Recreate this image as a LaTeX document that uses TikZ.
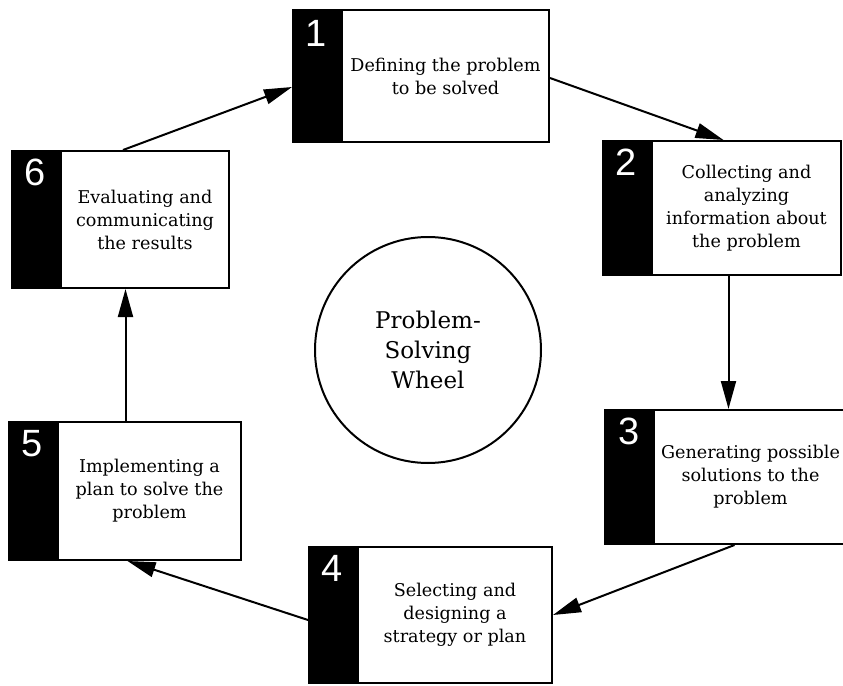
\documentclass[tikz,border=0pt]{standalone}
\usepackage{fontspec}
\setmainfont{DejaVu Serif}
\newfontfamily\numfont{Liberation Sans}
\usetikzlibrary{arrows.meta}

\begin{document}
\begin{tikzpicture}[x=0.5pt, y=-0.5pt, line width=1pt, >={Triangle[length=14pt,width=7.5pt]}]
    \useasboundingbox (0,0) rectangle (843,686);
    \begin{scope}[rectangle, every node/.style={draw, align=center, font=\fontsize{8.8}{11.5}\selectfont}]
    \node[minimum width=103.5pt, minimum height=66pt] (1) at (445.5,76) {Defining the problem\\to be solved};
    \node[minimum width=94.5pt, minimum height=67pt] (2) at (746.5,208) {Collecting and\\analyzing\\information about\\the problem};
    \node[minimum width=90.5pt, minimum height=67pt] (3) at (750.5,477) {Generating possible\\solutions to the\\problem};
    \node[minimum width=97pt, minimum height=68pt] (4) at (455,615) {Selecting and\\designing a\\strategy or plan};
    \node[minimum width=91.5pt, minimum height=69pt] (5) at (149.5,491) {Implementing a\\plan to solve the\\problem};
    \node[minimum width=84pt, minimum height=68.5pt] (6) at (145,219.5) {Evaluating and\\communicating\\the results};
    \end{scope}
    \begin{scope}[rectangle, every node/.style={draw, fill=black, minimum width=23.5pt, anchor=north east}]
    \node[minimum height=66pt] (1_) at (1.north west) {};
    \node[minimum height=67pt] (2_) at (2.north west) {};
    \node[minimum height=67pt] (3_) at (3.north west) {};
    \node[minimum height=68pt] (4_) at (4.north west) {};
    \node[minimum height=69pt] (5_) at (5.north west) {};
    \node[minimum height=68.5pt] (6_) at (6.north west) {};
    \end{scope}
    \begin{scope}[every node/.style={text=white, anchor=north, inner sep=0pt, font=\numfont\fontsize{19}{19}\selectfont}]
    \node (1n) at ([yshift=-5pt]1_.north) {1};
    \node (2n) at ([yshift=-4pt]2_.north) {2};
    \node (3n) at ([yshift=-4pt]3_.north) {3};
    \node (4n) at ([yshift=-4pt]4_.north) {4};
    \node (5n) at ([yshift=-4pt]5_.north) {5};
    \node (6n) at ([yshift=-4pt]6_.north) {6};
    \end{scope}
    \node[draw, circle, minimum size=113pt, align=center, font=\fontsize{11.5}{15}\selectfont] (wheel) at (428,350) {Problem-\\Solving\\Wheel};
    \begin{scope}[->]
      \draw ([xshift=-11pt]6.north) -- ([yshift=-5.5pt]1_.west);
      \draw ([yshift=-1pt]1.east) -- ([xshift=-11.5pt]2.north);
      \draw ([xshift=-9pt]2.south) -- ([xshift=-9pt]2.south |- 3.north);
      \draw ([xshift=-8pt]3.south) -- (4.east);
      \draw ([yshift=-2.5pt]4_.west) -- ([xshift=-11pt]5.south);
      \draw ([xshift=-12pt]5.north) -- ([xshift=-12pt]5.north |- 6.south);
    \end{scope}
\end{tikzpicture}
\end{document}
